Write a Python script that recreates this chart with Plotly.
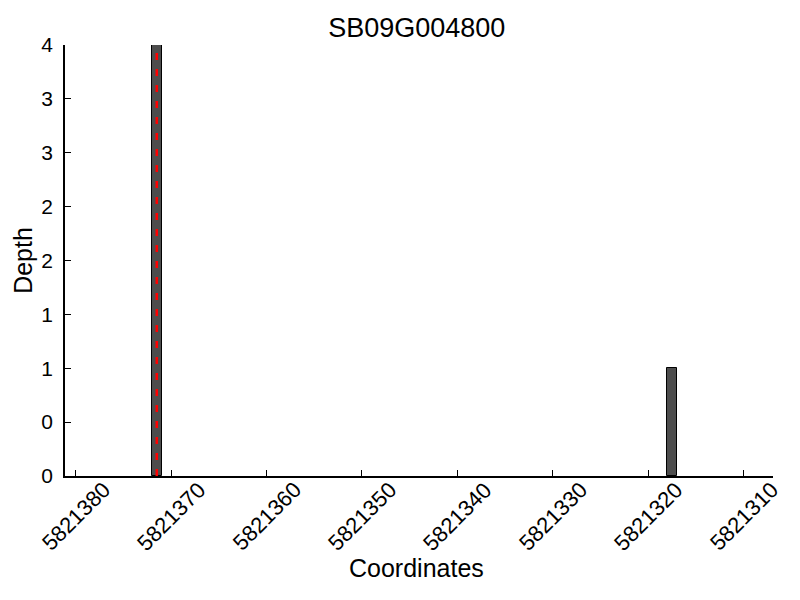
import plotly.graph_objects as go

# Data
coordinates = [5821372, 5821318]
depths = [4, 1]
marker_position = [5821371.5]
x_tick_values = [5821380, 5821370, 5821360, 5821350, 5821340, 5821330, 5821320, 5821310]
y_tick_values = [0, 0.5, 1, 1.5, 2, 2.5, 3, 3.5, 4]
y_tick_labels = ["0", "0", "1", "1", "2", "2", "3", "3", "4"]

font = "Liberation Sans, Arial, sans-serif"

fig = go.Figure()
fig.add_trace(go.Bar(
    x=coordinates, y=depths, offset=-1, width=1,
    marker=dict(color="#4d4d4d", line=dict(color="black", width=1)),
    showlegend=False, hoverinfo="x+y",
))
for m in marker_position:
    fig.add_shape(type="line", x0=m, x1=m, y0=0, y1=max(depths), xref="x", yref="y",
                  line=dict(color="red", width=2.5, dash="7px,9px"))

# rotated x tick labels centred on their ticks (matplotlib style)
for v in x_tick_values:
    fig.add_annotation(x=v, xref="x", y=0, yref="paper", yshift=-40,
                       text=str(v), textangle=-45, showarrow=False,
                       xanchor="center", yanchor="middle",
                       font=dict(family=font, size=22, color="black"))
fig.add_annotation(x=0.497, xref="paper", y=0, yref="paper", yshift=-92,
                   text="Coordinates", showarrow=False, xanchor="center", yanchor="middle",
                   font=dict(family=font, size=25, color="black"))

fig.update_layout(
    width=800, height=600,
    margin=dict(l=57, r=35, t=37, b=132, autoexpand=False),
    plot_bgcolor="white", paper_bgcolor="white",
    title=dict(text="SB09G004800", x=0.511, xanchor="center", y=0.967, yanchor="middle",
               font=dict(family=font, size=27, color="black")),
    bargap=0,
    xaxis=dict(
        range=[5821381.12, 5821306.92], automargin=False,
        tickmode="array", tickvals=x_tick_values, showticklabels=False,
        ticks="inside", ticklen=6, tickcolor="black",
        showline=True, linecolor="black", linewidth=1.5, showgrid=False, zeroline=False,
    ),
    yaxis=dict(
        range=[0, 4], automargin=False,
        tickmode="array", tickvals=y_tick_values, ticktext=y_tick_labels,
        ticks="inside", ticklen=6, tickcolor="black", ticklabelstandoff=6,
        showline=True, linecolor="black", linewidth=1.5, showgrid=False, zeroline=False,
        tickfont=dict(family=font, size=21, color="black"),
        title=dict(text="Depth", font=dict(family=font, size=25, color="black"), standoff=2),
    ),
)

fig.write_html("out.html")
